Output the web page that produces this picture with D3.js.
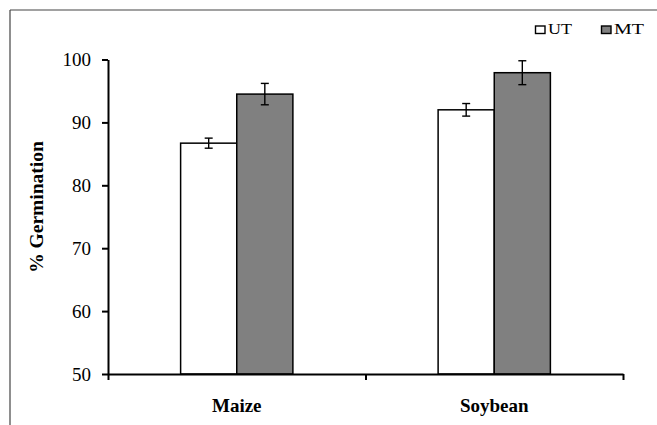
<!DOCTYPE html>
<html>
<head>
<meta charset="utf-8">
<script src="https://cdn.jsdelivr.net/npm/d3@7"></script>
<style>
  body { margin: 0; background: #fff; }
  svg text { font-family: "Liberation Serif", "Times New Roman", serif; }
</style>
</head>
<body>
<svg id="chart" width="657" height="425"></svg>
<script>
var crops = ["Maize", "Soybean"];
var series = ["UT", "MT"];
var meanUT = [86.7, 92.0];
var meanMT = [94.5, 97.9];
var errUT = [0.8, 1.0];
var errMT = [1.7, 1.9];
var yTicks = [50, 60, 70, 80, 90, 100];

var fills = { UT: "#ffffff", MT: "#808080" };

var svg = d3.select("#chart");

// outer frame (top + left only, like the source figure)
svg.append("line").attr("x1", 10).attr("y1", 10).attr("x2", 657).attr("y2", 10)
    .attr("stroke", "#444").attr("stroke-width", 1.2);
svg.append("line").attr("x1", 10).attr("y1", 10).attr("x2", 10).attr("y2", 425)
    .attr("stroke", "#444").attr("stroke-width", 1.2);

var plotLeft = 108, plotRight = 623, plotTop = 59.5, plotBottom = 374;

var y = d3.scaleLinear().domain([50, 100]).range([plotBottom, plotTop]);
var x0 = d3.scaleBand().domain(crops).range([plotLeft, plotRight]);
var bw = x0.bandwidth();
var barW = bw * 0.218;
var x1 = d3.scaleBand().domain(series).range([(bw - 2 * barW) / 2, (bw + 2 * barW) / 2]);

var rows = [];
crops.forEach(function(c, i) {
    rows.push({ crop: c, s: "UT", v: meanUT[i], e: errUT[i] });
    rows.push({ crop: c, s: "MT", v: meanMT[i], e: errMT[i] });
});

// bars
svg.append("g").selectAll("rect")
    .data(rows)
    .enter().append("rect")
    .attr("x", function(d) { return x0(d.crop) + x1(d.s); })
    .attr("y", function(d) { return y(d.v); })
    .attr("width", x1.bandwidth())
    .attr("height", function(d) { return y(50) - y(d.v); })
    .attr("fill", function(d) { return fills[d.s]; })
    .attr("stroke", "#000")
    .attr("stroke-width", 1.5);

// error bars
var eb = svg.append("g").attr("stroke", "#000").attr("stroke-width", 1.4);
rows.forEach(function(d) {
    var cx = x0(d.crop) + x1(d.s) + x1.bandwidth() / 2;
    eb.append("line").attr("x1", cx).attr("x2", cx)
        .attr("y1", y(d.v + d.e)).attr("y2", y(d.v - d.e));
    eb.append("line").attr("x1", cx - 4).attr("x2", cx + 4)
        .attr("y1", y(d.v + d.e)).attr("y2", y(d.v + d.e));
    eb.append("line").attr("x1", cx - 4).attr("x2", cx + 4)
        .attr("y1", y(d.v - d.e)).attr("y2", y(d.v - d.e));
});

// y axis
var yAxis = svg.append("g")
    .attr("transform", "translate(" + plotLeft + ",0)")
    .call(d3.axisLeft(y).tickValues(yTicks).tickSize(6).tickPadding(11).tickSizeOuter(0));
yAxis.select(".domain").attr("stroke-width", 2);
yAxis.selectAll(".tick line").attr("stroke-width", 2);
yAxis.selectAll("text").style("font-size", "19px").style("font-family", "Liberation Serif").attr("fill", "#000");

// x axis with ticks at category boundaries
var xb = d3.scaleLinear().domain([0, crops.length]).range([plotLeft, plotRight]);
var xAxis = svg.append("g")
    .attr("transform", "translate(0," + plotBottom + ")")
    .call(d3.axisBottom(xb).tickValues(d3.range(crops.length + 1)).tickSize(6).tickSizeOuter(0).tickFormat(""));
xAxis.select(".domain").attr("stroke-width", 2);
xAxis.selectAll(".tick line").attr("stroke-width", 2);

svg.append("g").selectAll("text")
    .data(crops)
    .enter().append("text")
    .attr("x", function(d) { return x0(d) + bw / 2; })
    .attr("y", 412)
    .attr("text-anchor", "middle")
    .style("font-size", "19px")
    .style("font-weight", "bold")
    .text(function(d) { return d; });

// y label
svg.append("text")
    .attr("transform", "translate(43,207) rotate(-90)")
    .attr("text-anchor", "middle")
    .style("font-size", "19.5px")
    .style("font-weight", "bold")
    .text("% Germination");

// legend
var legX = [535, 601];
var legTextW = [24, 30];
var leg = svg.append("g").selectAll("g")
    .data(series)
    .enter().append("g")
    .attr("transform", function(d, i) { return "translate(" + legX[i] + ",0)"; });
leg.append("rect")
    .attr("x", 0.5).attr("y", 26)
    .attr("width", 9.5).attr("height", 7.5)
    .attr("fill", function(d) { return fills[d]; })
    .attr("stroke", "#000").attr("stroke-width", 1.4);
leg.append("text")
    .attr("x", 13).attr("y", 34)
    .attr("textLength", function(d, i) { return legTextW[i]; })
    .attr("lengthAdjust", "spacingAndGlyphs")
    .style("font-size", "14px")
    .text(function(d) { return d; });
</script>
</body>
</html>
